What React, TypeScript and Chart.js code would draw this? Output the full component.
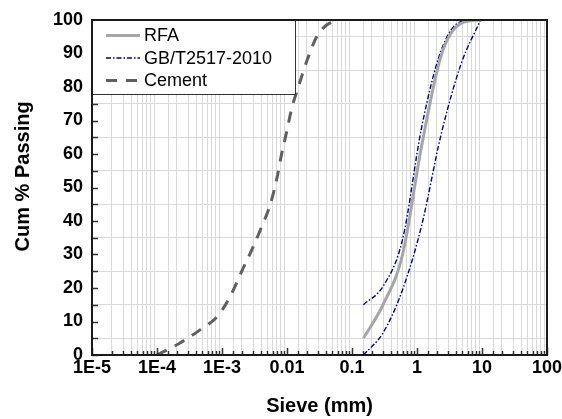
import React, { useEffect, useRef } from "react";
import { Chart, registerables } from "chart.js";

Chart.register(...registerables);

// Sieve sizes (mm) and cumulative passing (%)
const sandSieve = [0.15, 0.3, 0.6, 1.18, 2.36, 4.75, 9.5];
const rfaPassing = [5, 15, 30, 62.5, 89.5, 99, 100];
const gbUpper = [15, 20.5, 34.5, 68, 91, 99.5, 100];
const gbLower = [0, 6.6, 19.5, 38.7, 66, 86.8, 100];

const cementSize = [
  0.0001, 0.000213, 0.00046, 0.00088, 0.00141, 0.002, 0.00286, 0.00408, 0.0055,
  0.00695, 0.0083, 0.0099, 0.0118, 0.0141, 0.0213, 0.0286, 0.0408, 0.0616,
];
const cementPassing = [
  0, 3.3, 7.5, 11.9, 18.4, 24.9, 31.3, 38.3, 44.8, 52.5, 60.2, 66.7, 73.6, 78.5,
  89, 95, 98.5, 99.8,
];

const xMin = 1e-5;
const xMax = 100;
const yMin = 0;
const yMax = 100;
const yStep = 5;

const legendLabels = ["RFA", "GB/T2517-2010", "Cement"];
const xTitle = "Sieve (mm)";
const yTitle = "Cum % Passing";

const FONT = "Arial, 'Liberation Sans', sans-serif";
const RFA_COLOR = "#a6a6a6";
const GB_COLOR = "#00008b";
const CEM_COLOR = "#606060";
const GB_DASH = [5, 2, 1.5, 2];
const CEM_DASH = [11, 9];
const GRID = "#d9d9d9";

function isDecade(v: number) {
  const l = Math.log10(v);
  return Math.abs(l - Math.round(l)) < 1e-6;
}

function decadeLabel(v: number) {
  const e = Math.round(Math.log10(v));
  if (e <= -3) return "1E" + e;
  return String(Math.pow(10, e));
}

const toPoints = (xs: number[], ys: number[]) => xs.map((x, i) => ({ x, y: ys[i] }));

const decorPlugin = {
  id: "decor",
  afterDatasetsDraw(chart: any) {
    const { ctx, chartArea: a, scales } = chart;
    const xs = scales.x;
    const ys = scales.y;
    ctx.save();
    // tick marks (inward)
    ctx.strokeStyle = "#333";
    ctx.lineWidth = 1.5;
    ctx.setLineDash([]);
    xs.ticks.forEach((t: any) => {
      const px = Math.round(xs.getPixelForValue(t.value)) + 0.5;
      const len = isDecade(t.value) ? 7 : 4;
      ctx.beginPath();
      ctx.moveTo(px, a.bottom);
      ctx.lineTo(px, a.bottom - len);
      ctx.stroke();
    });
    ys.ticks.forEach((t: any) => {
      const py = Math.round(ys.getPixelForValue(t.value)) + 0.5;
      ctx.beginPath();
      ctx.moveTo(a.left, py);
      ctx.lineTo(a.left + 6, py);
      ctx.stroke();
    });

    // legend box
    const lx = a.left;
    const ly = a.top;
    const lw = 203;
    const lh = 74;
    ctx.fillStyle = "#fff";
    ctx.fillRect(lx, ly, lw, lh);
    ctx.strokeStyle = "#333";
    ctx.lineWidth = 1;
    ctx.strokeRect(lx + 0.5, ly + 0.5, lw, lh);

    const items = [
      { color: RFA_COLOR, width: 3, dash: [] as number[] },
      { color: GB_COLOR, width: 1.4, dash: GB_DASH },
      { color: CEM_COLOR, width: 3, dash: CEM_DASH },
    ];
    const rowY = [15.5, 38, 60.5];
    ctx.font = `18px ${FONT}`;
    ctx.textBaseline = "middle";
    ctx.textAlign = "left";
    items.forEach((it, i) => {
      const y = ly + rowY[i];
      ctx.strokeStyle = it.color;
      ctx.lineWidth = it.width;
      ctx.setLineDash(it.dash);
      ctx.beginPath();
      ctx.moveTo(lx + 14, y);
      ctx.lineTo(lx + 48, y);
      ctx.stroke();
      ctx.setLineDash([]);
      ctx.fillStyle = "#000";
      ctx.fillText(legendLabels[i], lx + 52, y + 1);
    });

    // frame
    ctx.strokeStyle = "#1a1a1a";
    ctx.lineWidth = 2;
    ctx.strokeRect(a.left, a.top, a.right - a.left, a.bottom - a.top);
    ctx.restore();
  },
};

export default function App() {
  const ref = useRef<HTMLCanvasElement | null>(null);

  useEffect(() => {
    document.body.style.margin = "0";
    const canvas = ref.current;
    if (!canvas) return;
    const chart = new Chart(canvas, {
      type: "line",
      data: {
        datasets: [
          {
            label: legendLabels[0],
            data: toPoints(sandSieve, rfaPassing),
            borderColor: RFA_COLOR,
            borderWidth: 3,
            pointRadius: 0,
            cubicInterpolationMode: "monotone",
            fill: false,
          },
          {
            label: legendLabels[1],
            data: toPoints(sandSieve, gbUpper),
            borderColor: GB_COLOR,
            borderWidth: 1.4,
            borderDash: GB_DASH,
            pointRadius: 0,
            cubicInterpolationMode: "monotone",
            fill: false,
          },
          {
            label: legendLabels[1] + " lower",
            data: toPoints(sandSieve, gbLower),
            borderColor: GB_COLOR,
            borderWidth: 1.4,
            borderDash: GB_DASH,
            pointRadius: 0,
            cubicInterpolationMode: "monotone",
            fill: false,
          },
          {
            label: legendLabels[2],
            data: toPoints(cementSize, cementPassing),
            borderColor: CEM_COLOR,
            borderWidth: 3,
            borderDash: CEM_DASH,
            pointRadius: 0,
            cubicInterpolationMode: "monotone",
            fill: false,
          },
        ],
      },
      options: {
        responsive: false,
        animation: false,
        devicePixelRatio: 1,
        layout: { padding: { top: 20, right: 15, left: 0, bottom: 0 } },
        plugins: {
          legend: { display: false },
          tooltip: { enabled: false },
        },
        scales: {
          x: {
            type: "logarithmic",
            min: xMin,
            max: xMax,
            border: { display: false },
            grid: {
              drawTicks: false,
              lineWidth: 1,
              color: (c: any) =>
                c.tick && !isDecade(c.tick.value) ? GRID : "rgba(0,0,0,0)",
            },
            ticks: {
              autoSkip: false,
              maxRotation: 0,
              padding: 2,
              color: "#000",
              font: { family: FONT, size: 18, weight: "bold" },
              callback: (v: any) => (isDecade(Number(v)) ? decadeLabel(Number(v)) : ""),
            },
            title: {
              display: true,
              text: xTitle,
              color: "#000",
              font: { family: FONT, size: 20, weight: "bold" },
              padding: { top: 0, bottom: 1 },
            },
            afterFit: (s: any) => {
              s.height = 64;
              s.paddingLeft = 0;
              s.paddingRight = 0;
            },
          },
          y: {
            type: "linear",
            min: yMin,
            max: yMax,
            border: { display: false },
            grid: {
              drawTicks: false,
              lineWidth: 1,
              color: (c: any) =>
                c.tick && c.tick.value % 10 === 5 ? GRID : "rgba(0,0,0,0)",
            },
            ticks: {
              stepSize: yStep,
              autoSkip: false,
              padding: 9,
              color: "#000",
              font: { family: FONT, size: 18, weight: "bold" },
              callback: (v: any) => (Number(v) % 10 === 0 ? String(v) : ""),
            },
            title: {
              display: true,
              text: "    " + yTitle,
              color: "#000",
              font: { family: FONT, size: 20, weight: "bold" },
              padding: { top: 11, bottom: 0 },
            },
            afterFit: (s: any) => {
              s.width = 92;
              s.paddingTop = 0;
              s.paddingBottom = 0;
            },
          },
        },
      } as any,
      plugins: [decorPlugin],
    });
    return () => chart.destroy();
  }, []);

  return (
    <div style={{ width: 562, height: 419 }}>
      <canvas ref={ref} width={562} height={419} />
    </div>
  );
}
